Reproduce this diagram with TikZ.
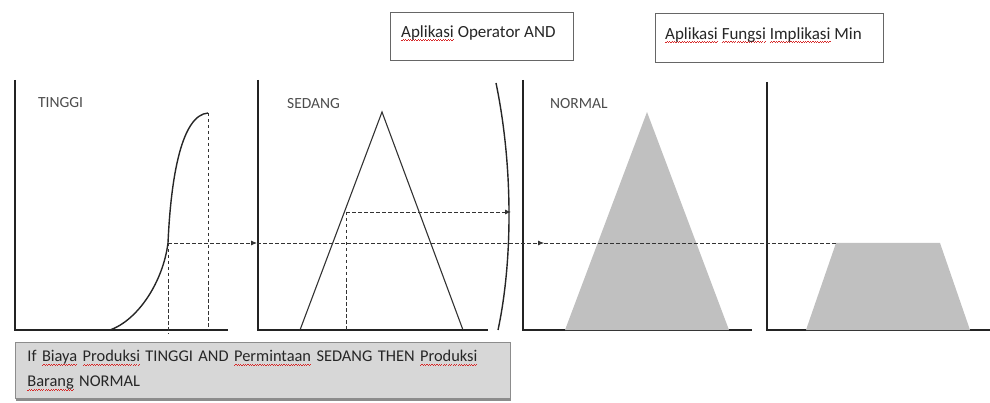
\documentclass[tikz,border=0pt]{standalone}
\usepackage{fontspec}
\setmainfont{Carlito}
\usetikzlibrary{arrows.meta,shadows}
\definecolor{sqred}{RGB}{215,40,40}
\definecolor{axis}{RGB}{35,35,35}
\definecolor{mfill}{RGB}{192,192,192}
\definecolor{boxgray}{RGB}{215,215,215}
\newsavebox\sqbox
\newcommand\sq[1]{\leavevmode\sbox\sqbox{#1}\rlap{\color{sqred}\hbox to\wd\sqbox{\xleaders\hbox{\rule[-3.6pt]{1.2pt}{0.8pt}\rule[-2.6pt]{1.2pt}{0.8pt}}\hfill}}\usebox\sqbox}
\begin{document}
\begin{tikzpicture}[x=1pt,y=-1pt,
  axisline/.style={draw=axis,line width=2pt},
  curveline/.style={draw=black!85,line width=1.4pt},
  triline/.style={draw=black!80,line width=1.1pt},
  dashline/.style={draw=black!80,line width=0.8pt,dash pattern=on 3.5pt off 2.5pt},
  arrowtip/.style={-{Latex[length=6pt,width=5pt]}},
  panellabel/.style={font=\fontsize{15.5}{18}\selectfont,text=black!70,anchor=west,inner sep=0pt},
  topbox/.style={draw=black!60,line width=1pt,fill=white,inner sep=0pt,anchor=north west},
  boxtext/.style={anchor=west,font=\fontsize{17}{20}\selectfont,text=black!85,inner sep=0pt},
  rulebox/.style={draw=black!45,line width=0.8pt,fill=boxgray,font=\fontsize{16.4}{25}\selectfont,text=black!85,
     drop shadow={shadow xshift=1pt,shadow yshift=-2.5pt,fill=black!45,opacity=1},align=left,anchor=north west,
     inner xsep=12pt,inner ysep=6pt}
]
\useasboundingbox (0,0) rectangle (990,403);
% top boxes
\node[topbox,minimum width=183pt,minimum height=48pt] (opbox) at (390,12) {};
\node[boxtext] (optext) at (401,33) {\sq{Aplikasi} Operator AND};
\node[topbox,minimum width=228pt,minimum height=49pt] (impbox) at (655,13) {};
\node[boxtext] (imptext) at (665,35) {\sq{Aplikasi} \sq{Fungsi} \sq{Implikasi} Min};

% axes
\coordinate (o1) at (15,330); \coordinate (y1) at (15,80); \coordinate (x1) at (228,330);
\coordinate (o2) at (258,330); \coordinate (y2) at (258,80); \coordinate (x2) at (488,330);
\coordinate (o3) at (523,330); \coordinate (y3) at (523,80); \coordinate (x3) at (752,330);
\coordinate (o4) at (767,330); \coordinate (y4) at (767,82); \coordinate (x4) at (990,330);
\draw[axisline] (y1) -- (o1) -- (x1);
\draw[axisline] (y2) -- (o2) -- (x2);
\draw[axisline] (y3) -- (o3) -- (x3);
\draw[axisline] (y4) -- (o4) -- (x4);

% labels
\node[panellabel] (ltinggi) at (38,103) {TINGGI};
\node[panellabel] (lsedang) at (287,104) {SEDANG};
\node[panellabel] (lnormal) at (550,104) {NORMAL};

% panel 1: S-curve
\coordinate (s0) at (110,330);
\coordinate (s1) at (168,243);
\coordinate (s2) at (208,113);
\coordinate (s1b) at (168,334);
\coordinate (s2b) at (208,330);
\draw[curveline] (s0) .. controls (138,320) and (163,282) .. (s1) .. controls (171,175) and (182,115) .. (s2);
\draw[dashline] (s1) -- (s1b);
\draw[dashline] (s2) -- (s2b);

% panel 2: triangle
\coordinate (tl) at (300,330);
\coordinate (tt) at (382,112);
\coordinate (tr) at (463,330);
\draw[triline,line join=miter] (tl) -- (tt) -- (tr);
\draw[line width=2pt,draw=axis] (tl) -- (tr);
\coordinate (a1) at (346,212);
\coordinate (a1b) at (346,330);
\draw[dashline] (a1) -- (a1b);

% bracket
\coordinate (bt) at (496,83);
\coordinate (bb) at (498,330);
\draw[curveline] (bt) .. controls (513,165) and (513,260) .. (bb);

% panel 3: normal triangle
\coordinate (nl) at (565,330);
\coordinate (nt) at (647,112);
\coordinate (nr) at (729,330);
\fill[mfill] (nl) -- (nt) -- (nr) -- cycle;

% panel 4: trapezoid
\coordinate (ql) at (806,330);
\coordinate (qtl) at (836,243);
\coordinate (qtr) at (940,243);
\coordinate (qr) at (970,330);
\fill[mfill] (ql) -- (qtl) -- (qtr) -- (qr) -- cycle;

% dashed connectors
\coordinate (h1) at (257,243);
\coordinate (h2) at (544,243);
\draw[dashline,arrowtip] (s1) -- (h1);
\draw[dashline,arrowtip] (h1) -- (h2);
\draw[dashline] (h2) -- (qtl);
\coordinate (m1) at (511,212);
\draw[dashline,arrowtip] (a1) -- (m1);

% rule box
\node[rulebox,text width=471pt,minimum height=56pt] (rule) at (15,342)
 {If \sq{Biaya} \sq{Produksi} TINGGI AND \sq{Permintaan} SEDANG THEN \sq{Produksi}\\\sq{Barang} NORMAL};
\end{tikzpicture}
\end{document}
